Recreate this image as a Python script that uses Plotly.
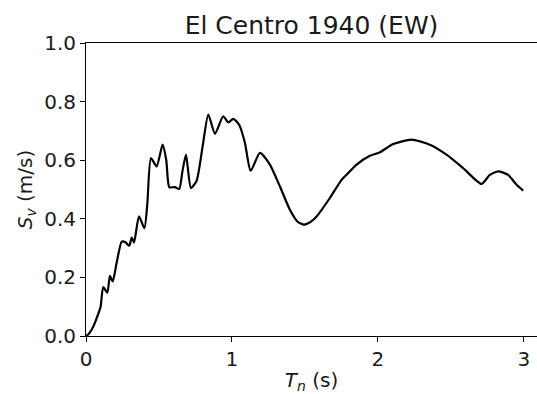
import plotly.graph_objects as go

# Pseudo-velocity response spectrum, El Centro 1940 (EW component)
period_s = [0, 0.02, 0.05, 0.08, 0.10, 0.118, 0.146, 0.164, 0.183, 0.21, 0.245, 0.27,
            0.297, 0.313, 0.329, 0.363, 0.40, 0.42, 0.445, 0.484, 0.525, 0.55, 0.571,
            0.61, 0.639, 0.66, 0.685, 0.719, 0.758, 0.80, 0.838, 0.884, 0.94, 0.975,
            1.009, 1.05, 1.089, 1.128, 1.192, 1.26, 1.329, 1.397, 1.45, 1.493, 1.54,
            1.58, 1.671, 1.751, 1.785, 1.854, 1.945, 2.014, 2.105, 2.23, 2.356, 2.47,
            2.584, 2.71, 2.767, 2.824, 2.892, 2.95, 2.995]
sv_ms = [0, 0.008, 0.032, 0.07, 0.10, 0.167, 0.148, 0.205, 0.186, 0.25, 0.322, 0.32,
         0.308, 0.336, 0.319, 0.408, 0.368, 0.45, 0.607, 0.579, 0.653, 0.60, 0.508,
         0.508, 0.502, 0.56, 0.619, 0.505, 0.53, 0.65, 0.756, 0.69, 0.75, 0.729,
         0.741, 0.72, 0.659, 0.564, 0.625, 0.585, 0.51, 0.431, 0.39, 0.38, 0.39,
         0.408, 0.471, 0.533, 0.55, 0.585, 0.615, 0.627, 0.655, 0.67, 0.653, 0.619,
         0.573, 0.519, 0.55, 0.562, 0.55, 0.516, 0.496]

x_ticks = [0, 1, 2, 3]
y_ticks = [0.0, 0.2, 0.4, 0.6, 0.8, 1.0]

fig = go.Figure(go.Scatter(
    x=period_s, y=sv_ms, mode="lines",
    line=dict(color="black", width=2.2, shape="spline", smoothing=0.6),
    hoverinfo="skip",
))

font = dict(family="DejaVu Sans", size=20, color="#1a1a1a")

fig.update_layout(
    width=537, height=394,
    margin=dict(l=86, r=0, t=43, b=58),
    paper_bgcolor="white", plot_bgcolor="white",
    showlegend=False,
    font=font,
    title=dict(text="El Centro 1940 (EW)", x=(86 + 537) / 2 / 537, xanchor="center",
               y=1 - 25 / 394, yanchor="middle",
               font=dict(family="DejaVu Sans", size=25, color="#1a1a1a")),
    xaxis=dict(range=[0, 3.09], tickvals=x_ticks, ticktext=[str(v) for v in x_ticks],
               showgrid=False, zeroline=False, showline=True, linecolor="black",
               linewidth=1, mirror=True, ticks="outside", ticklen=5, tickcolor="black",
               tickfont=font,
               title=dict(text="<i>T</i><sub><i>n</i></sub> (s)", font=font, standoff=6)),
    yaxis=dict(range=[0, 1.0], tickvals=y_ticks, ticktext=[f"{v:.1f}" for v in y_ticks],
               showgrid=False, zeroline=False, showline=True, linecolor="black",
               linewidth=1, mirror=False, ticks="outside", ticklen=5, tickcolor="black",
               tickfont=font,
               title=dict(text="<i>S</i><sub><i>v</i></sub> (m/s)", font=font, standoff=6)),
)

fig.write_html("out.html")
